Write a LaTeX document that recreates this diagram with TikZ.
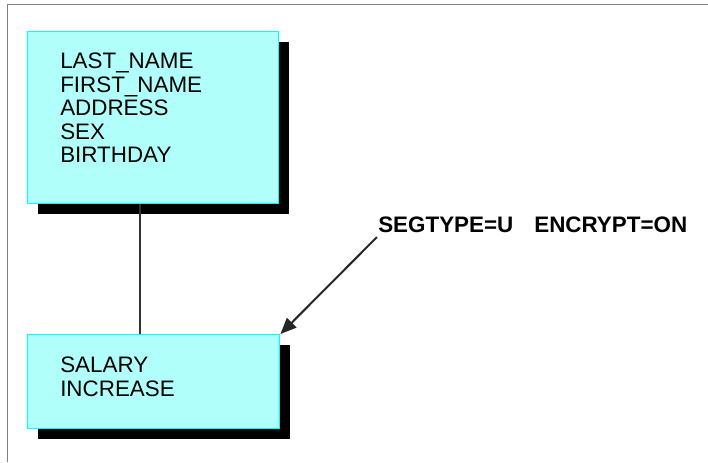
\documentclass[tikz,border=0pt]{standalone}
\usepackage{fontspec}
\setmainfont{Liberation Sans}
\usetikzlibrary{shadows,arrows.meta}
\definecolor{boxfill}{RGB}{176,255,250}
\definecolor{boxline}{RGB}{0,255,255}
\definecolor{framegray}{RGB}{128,128,128}
\definecolor{linkgray}{RGB}{50,50,50}
\tikzset{
  segbox/.style={draw=boxline, fill=boxfill, line width=1.1pt, inner sep=0pt,
    anchor=north west, rectangle,
    general shadow={fill=black, shadow xshift=7.5pt, shadow yshift=-7.5pt}},
  boxtext/.style={anchor=north west, inner sep=0pt, align=left,
    font=\fontsize{16.8}{17.6}\selectfont},
  link/.style={draw=linkgray, line width=1.5pt},
  pointer/.style={draw=black!85, line width=1.5pt, -{Triangle[length=12pt,width=10pt]}},
  attr/.style={anchor=base west, inner sep=0pt, font=\fontsize{16.8}{17.6}\selectfont\bfseries}
}
\begin{document}
\begin{tikzpicture}[x=0.75pt, y=-0.75pt]
  \useasboundingbox (0,0) rectangle (708,462);
  \fill[white] (0,0) rectangle (708,462);
  \draw[framegray, line width=1.1pt] (7.5,462) -- (7.5,4.5) -- (708,4.5);

  \node[segbox, minimum width=188.25pt, minimum height=129pt,
    label={[boxtext, xshift=24.75pt, yshift=-16.5pt]north west:{LAST\_NAME\\FIRST\_NAME\\ADDRESS\\SEX\\BIRTHDAY}}]
    (b1) at (27,31) {};
  \node[segbox, minimum width=189pt, minimum height=70.5pt,
    label={[boxtext, xshift=24.75pt, yshift=-17.25pt]north west:{SALARY\\INCREASE}}]
    (b2) at (27,334) {};

  \draw[link] ([xshift=84.75pt]b1.south west) -- ([xshift=84.75pt]b2.north west);

  \node[attr] (lbl) at (378,232) {SEGTYPE=U\hspace{15.75pt}ENCRYPT=ON};
  \draw[pointer] ([xshift=-0.75pt, yshift=-3.75pt]lbl.base west) -- (b2.north east);
\end{tikzpicture}
\end{document}
